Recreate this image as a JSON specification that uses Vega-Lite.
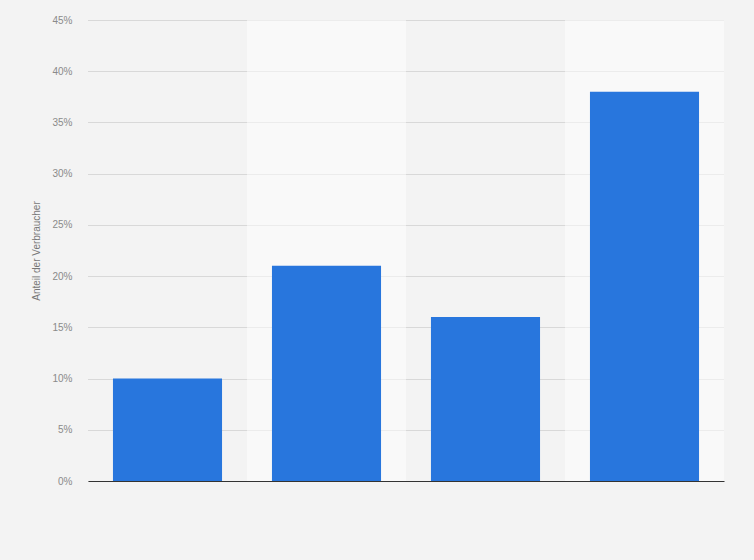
{
  "$schema": "https://vega.github.io/schema/vega-lite/v6.json",
  "width": 636,
  "height": 461,
  "autosize": {"type": "none"},
  "padding": {"left": 88, "top": 20, "right": 30, "bottom": 79},
  "background": "#f3f3f3",
  "config": {
    "view": {"stroke": null},
    "font": "Liberation Sans",
    "axisY": {
      "title": "Anteil der Verbraucher",
      "titleFontSize": 10,
      "titleFontWeight": "normal",
      "titleColor": "#777777",
      "titlePadding": 10,
      "labelFontSize": 10,
      "labelColor": "#8a8a8a",
      "labelPadding": 16,
      "domain": false,
      "ticks": false,
      "grid": true,
      "gridColor": "#bdbdbd",
      "gridDash": [1, 1],
      "gridWidth": 1,
      "gridOpacity": 1
    }
  },
  "data": {
    "values": [
      {"gruppe": "1", "anteil": 10},
      {"gruppe": "2", "anteil": 21},
      {"gruppe": "3", "anteil": 16},
      {"gruppe": "4", "anteil": 38}
    ]
  },
  "encoding": {
    "x": {
      "field": "gruppe",
      "type": "nominal",
      "sort": null,
      "scale": {"paddingInner": 0, "paddingOuter": 0},
      "axis": {
        "title": null,
        "labels": false,
        "ticks": false,
        "domainColor": "#333333",
        "domainWidth": 1
      }
    }
  },
  "layer": [
    {
      "mark": {"type": "bar", "fill": "#ffffff", "width": {"band": 1}},
      "encoding": {
        "y": {
          "datum": 45,
          "type": "quantitative",
          "title": "Anteil der Verbraucher",
          "scale": {"domain": [0, 45], "nice": false},
          "axis": {
            "values": [0, 5, 10, 15, 20, 25, 30, 35, 40, 45],
            "labelExpr": "datum.value + '%'"
          }
        },
        "opacity": {
          "condition": {"test": "datum.gruppe == '2' || datum.gruppe == '4'", "value": 0.5},
          "value": 0
        }
      }
    },
    {
      "mark": {"type": "bar", "color": "#2876dd", "width": {"band": 0.686}},
      "encoding": {
        "y": {
          "field": "anteil",
          "type": "quantitative",
          "title": "Anteil der Verbraucher",
          "axis": {
            "values": [0, 5, 10, 15, 20, 25, 30, 35, 40, 45],
            "labelExpr": "datum.value + '%'"
          }
        }
      }
    }
  ]
}
